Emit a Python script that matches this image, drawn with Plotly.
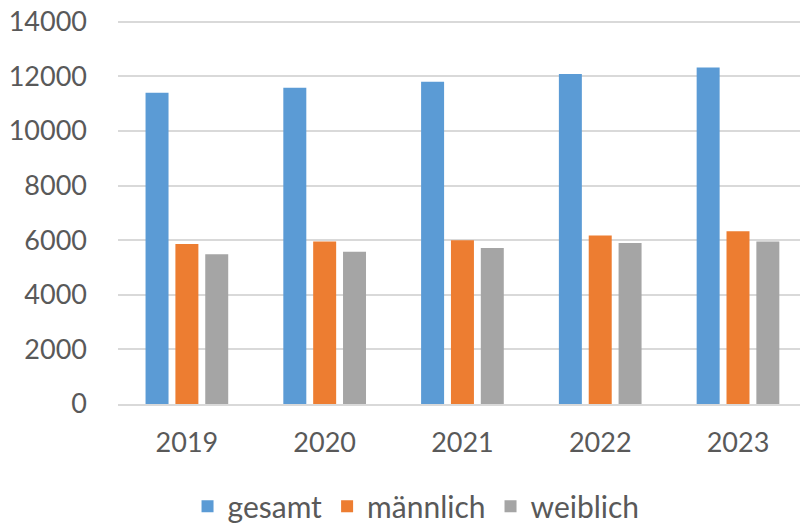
import plotly.graph_objects as go

# Jahre und Werte
years = ["2019", "2020", "2021", "2022", "2023"]
gesamt = [11400, 11580, 11800, 12090, 12320]
maennlich = [5860, 5950, 6000, 6170, 6330]
weiblich = [5480, 5580, 5710, 5900, 5950]

series = [
    ("gesamt", gesamt, "#5B9BD5"),
    ("männlich", maennlich, "#ED7D31"),
    ("weiblich", weiblich, "#A5A5A5"),
]

fig = go.Figure()
for name, vals, col in series:
    fig.add_trace(go.Bar(x=years, y=vals, name=name, marker=dict(color=col, line=dict(width=0))))

fig.update_layout(
    width=800, height=523,
    margin=dict(l=118, r=0, t=19, b=119, autoexpand=False),
    paper_bgcolor="white", plot_bgcolor="white",
    barmode="group", bargap=0.35, bargroupgap=0.23,
    font=dict(family="Lato", size=27, color="#595959"),
    showlegend=True,
    legend=dict(orientation="h", x=0.437, xanchor="center", yref="container", y=0.032,
                yanchor="middle", font=dict(size=30, color="#595959"), itemwidth=30),
    xaxis=dict(range=[-0.5, 4.45], showgrid=False, showline=True, linecolor="#d9d9d9",
               linewidth=1.5, ticks="", ticklabelstandoff=14),
    yaxis=dict(range=[0, 14100], tickvals=[0, 2000, 4000, 6000, 8000, 10000, 12000, 14000],
               tickformat="d", showgrid=True,
               gridcolor="#d9d9d9", gridwidth=1.5, zeroline=False, showline=False,
               ticks="", ticklabelstandoff=30),
)

# body-Rand entfernen, damit die Figur bei (0,0) beginnt
fig.write_html("out.html", config={"displayModeBar": False},
               post_script="document.body.style.margin='0';")
